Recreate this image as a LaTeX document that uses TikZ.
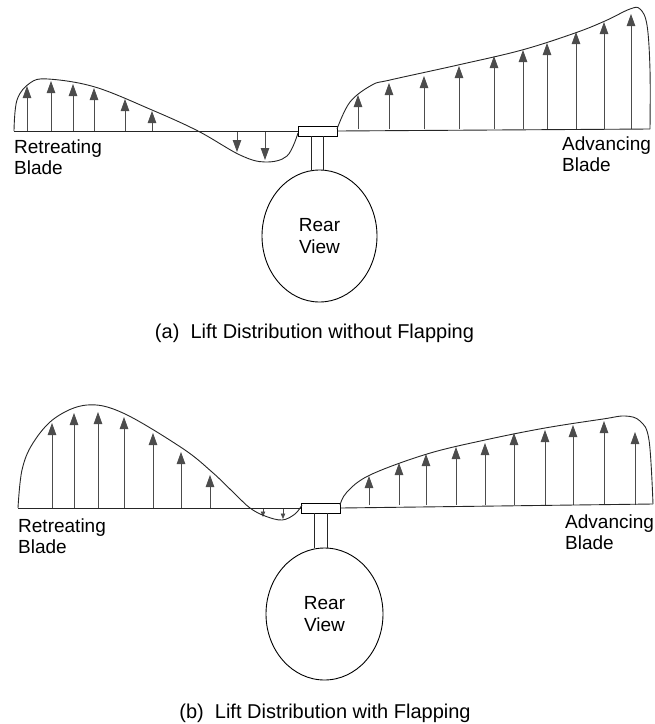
\documentclass[tikz,border=0pt]{standalone}
\usepackage{fontspec}
\setmainfont{Liberation Sans}
\usetikzlibrary{arrows.meta,shapes.geometric}
\begin{document}
\begin{tikzpicture}[x=1pt,y=-1pt,
  curve/.style={line width=0.9pt, black!85},
  lift/.style={line width=0.8pt, black!70, -{Triangle[length=12pt,width=8.5pt]}},
  smalllift/.style={line width=0.7pt, black!70, -{Triangle[length=5.5pt,width=4.5pt]}},
  bladelabel/.style={inner sep=0pt, align=left, anchor=north west, font=\fontsize{19}{21}\selectfont},
  caption/.style={inner sep=0pt, anchor=base, font=\fontsize{20}{22}\selectfont},
  hubbox/.style={draw, line width=0.9pt, fill=white, rectangle, minimum width=39pt, minimum height=10pt, inner sep=0pt},
  body/.style={draw, line width=0.9pt, ellipse, inner sep=0pt, align=center, font=\fontsize{19}{22}\selectfont},
]
\useasboundingbox (0,0) rectangle (655,724);

% ---------------- (a) without flapping ----------------
% lift vectors, retreating side
\foreach \x/\t in {27/86, 51/81, 73/84, 94/88, 125/99, 152/111}
  \draw[lift] (\x,131) -- (\x,\t);
% downward lift near the hub
\foreach \x/\t in {237/152, 265/160}
  \draw[lift] (\x,131) -- (\x,\t);
% lift vectors, advancing side
\foreach \x/\t in {358/95, 389/83, 424/76, 459/66, 494/56, 523/50, 547/43, 576/32, 604/22, 631/14}
  \draw[lift] (\x,129) -- (\x,\t);

% rotor hub, mast and fuselage
\node[hubbox] (hubA) at (317.5,131) {};
\node[body, minimum width=115pt, minimum height=132pt] (bodyA) at (319.5,236) {Rear\\View};
\draw[curve] ([xshift=-6pt]hubA.south) -- ([xshift=-6pt]hubA.south |- bodyA.north);
\draw[curve] ([xshift=6pt]hubA.south) -- ([xshift=6pt]hubA.south |- bodyA.north);

% blade span lines
\draw[curve] (14,131) -- (hubA.west);
\draw[curve] (hubA.east) -- (650,129);

% lift distribution envelopes
\draw[curve] plot[smooth, tension=0.6] coordinates {
  (14,131) (17,100) (30,83) (48,79) (95,87) (152,110) (198,131)
  (240,155) (265,162) (287,156) (298,133)};
\draw[curve] plot[smooth, tension=0.6] coordinates {
  (337,129) (350,102) (372,85) (390,80) (458,65) (522,50) (575,33)
  (605,21) (630,9) (640,9) (647,25) (650,70) (650,129)};

\node[bladelabel] (retA) at (14,139.5) {Retreating\\Blade};
\node[bladelabel] (advA) at (562,136.5) {Advancing\\Blade};
\node[caption] (capA) at (314.5,338) {(a)\ \ Lift Distribution without Flapping};

% ---------------- (b) with flapping ----------------
\foreach \x/\t in {52/423, 74/413, 98/412, 124/417, 153/433, 181/452, 210/475}
  \draw[lift] (\x,508) -- (\x,\t);
\foreach \x/\t in {263/517, 283/519}
  \draw[smalllift] (\x,508) -- (\x,\t);
\foreach \x/\t in {369/476, 399/463, 426/454, 456/447, 485/443, 514/433, 545/430, 573/425, 604/421, 635/432}
  \draw[lift] (\x,505) -- (\x,\t);

\node[hubbox] (hubB) at (321,508) {};
\node[body, minimum width=117pt, minimum height=132pt] (bodyB) at (324.5,614) {Rear\\View};
\draw[curve] ([xshift=-6.5pt]hubB.south) -- ([xshift=-6.5pt]hubB.south |- bodyB.north);
\draw[curve] ([xshift=6.5pt]hubB.south) -- ([xshift=6.5pt]hubB.south |- bodyB.north);

\draw[curve] (18,508) -- (hubB.west);
\draw[curve] (hubB.east) -- (653,504);

\draw[curve] plot[smooth, tension=0.6] coordinates {
  (18,508) (22,470) (33,443) (55,418) (87,405) (123,413) (182,448)
  (212,472) (234,493) (250,508) (265,516) (282,520) (295,514) (302,505)};
\draw[curve] plot[smooth, tension=0.6] coordinates {
  (340,505) (347,492) (370,475) (427,454) (485,440) (545,428) (603,419)
  (625,416) (640,421) (649,440) (653,504)};

\node[bladelabel] (retB) at (18,518.5) {Retreating\\Blade};
\node[bladelabel] (advB) at (565,514.5) {Advancing\\Blade};
\node[caption] (capB) at (325,718) {(b)\ \ Lift Distribution with Flapping};
\end{tikzpicture}
\end{document}
